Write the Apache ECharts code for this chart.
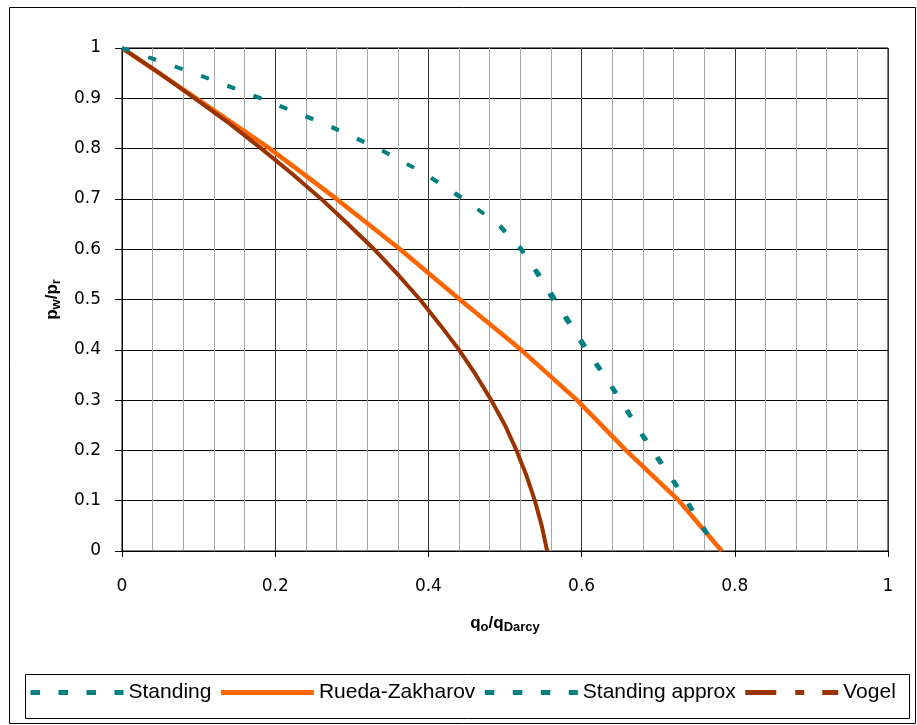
<!DOCTYPE html>
<html>
<head>
<meta charset="utf-8">
<script src="https://cdn.jsdelivr.net/npm/echarts@6/dist/echarts.min.js"></script>
<style>
  html, body { margin: 0; padding: 0; background: #fff; }
  #chart { width: 917px; height: 725px; }
</style>
</head>
<body>
<div id="chart"></div>
<script>
// values (q = qo/qDarcy, p = pw/pr)
const standingP = [1, 0.95, 0.9, 0.85, 0.8, 0.75, 0.7, 0.65, 0.6, 0.55, 0.5, 0.45, 0.4, 0.35, 0.3, 0.25, 0.2, 0.15, 0.1, 0.05, 0];
const standingQ = [0, 0.095, 0.182, 0.265, 0.336, 0.395, 0.444, 0.492, 0.522, 0.542, 0.562, 0.584, 0.605, 0.628, 0.650, 0.670, 0.691, 0.714, 0.736, 0.756, 0.778];

const approxP = [1, 0.95, 0.9, 0.85, 0.8, 0.75, 0.7, 0.65, 0.6, 0.55, 0.5, 0.45, 0.4, 0.35, 0.3, 0.25, 0.2, 0.15, 0.1, 0.05, 0];
const approxQ = [0, 0.093, 0.180, 0.262, 0.334, 0.396, 0.447, 0.490, 0.520, 0.545, 0.566, 0.587, 0.608, 0.630, 0.652, 0.672, 0.694, 0.716, 0.738, 0.758, 0.780];

const ruedaP = [1, 0.9, 0.8, 0.7, 0.6, 0.5, 0.4, 0.3, 0.2, 0.1, 0];
const ruedaQ = [0, 0.097, 0.193, 0.280, 0.363, 0.441, 0.521, 0.594, 0.658, 0.727, 0.783];

const vogelP = [1, 0.95, 0.9, 0.85, 0.8, 0.75, 0.7, 0.65, 0.6, 0.55, 0.5, 0.45, 0.4, 0.35, 0.3, 0.25, 0.2, 0.15, 0.1, 0.05, 0];
const vogelQ = [0, 0.049, 0.095, 0.140, 0.182, 0.222, 0.260, 0.295, 0.329, 0.360, 0.389, 0.415, 0.440, 0.462, 0.482, 0.500, 0.515, 0.528, 0.539, 0.548, 0.555];

const seriesNames = ['Standing', 'Rueda-Zakharov', 'Standing approx', 'Vogel'];

const pairs = (xs, ys) => xs.map((x, i) => [x, ys[i]]);

const TEAL = '#008080';
const ORANGE = '#FF6600';
const BROWN = '#993300';

const chart = echarts.init(document.getElementById('chart'));

const tickFont = { fontFamily: 'DejaVu Sans', fontSize: 17, color: '#000' };
// main text + lowered subscript
const subRich = {
  a: { fontFamily: 'Liberation Sans', fontSize: 17, fontWeight: 'bold', color: '#000', lineHeight: 19, verticalAlign: 'top' },
  b: { fontFamily: 'Liberation Sans', fontSize: 13, fontWeight: 'bold', color: '#000', lineHeight: 13, verticalAlign: 'bottom', padding: [9, 0, 0, 0] }
};

const option = {
  animation: false,
  backgroundColor: '#fff',
  grid: { left: 122, right: 29, top: 48, bottom: 174, show: true, borderColor: '#000', borderWidth: 1 },
  xAxis: {
    type: 'value', min: 0, max: 1, interval: 0.2,
    name: '{a|q}{b|o}{a|/q}{b|Darcy}',
    nameLocation: 'middle', nameGap: 64,
    nameTextStyle: { rich: subRich },
    axisLine: { show: true, lineStyle: { color: '#000', width: 1 } },
    axisTick: { show: true, length: 6, lineStyle: { color: '#000' } },
    axisLabel: Object.assign({ margin: 27 }, tickFont),
    splitLine: { show: true, lineStyle: { color: '#333', width: 1 } },
    minorTick: { show: false, splitNumber: 5 },
    minorSplitLine: { show: true, lineStyle: { color: '#A6A6A6', width: 1 } }
  },
  yAxis: {
    type: 'value', min: 0, max: 1, interval: 0.1,
    name: '{a|p}{b|w}{a|/p}{b|r}',
    nameLocation: 'middle', nameGap: 58,
    nameTextStyle: { rich: subRich },
    axisLine: { show: true, lineStyle: { color: '#000', width: 1 } },
    axisTick: { show: true, length: 7, lineStyle: { color: '#000' } },
    axisLabel: Object.assign({ margin: 21 }, tickFont),
    splitLine: { show: true, lineStyle: { color: '#000', width: 1 } }
  },
  legend: {
    left: 23, top: 677,
    itemWidth: 93, itemHeight: 14, itemGap: 7,
    textStyle: { fontFamily: 'Liberation Sans', fontSize: 21, color: '#000' },
    itemStyle: { opacity: 0 },
    lineStyle: { width: 5 },
    data: [
      { name: 'Standing', lineStyle: { type: [9.5, 18.5] } },
      { name: 'Rueda-Zakharov', lineStyle: { type: 'solid' } },
      { name: 'Standing approx', lineStyle: { type: [9.5, 18.5] } },
      { name: 'Vogel', lineStyle: { type: [31, 19, 9, 18] } }
    ]
  },
  graphic: [
    { type: 'rect', left: 7, top: 5, shape: { width: 906, height: 716 }, style: { fill: 'none', stroke: '#000', lineWidth: 1 }, silent: true },
    { type: 'rect', left: 23, top: 672, shape: { width: 884, height: 44 }, style: { fill: 'none', stroke: '#000', lineWidth: 1 }, silent: true, z: -1 }
  ],
  series: [
    {
      name: seriesNames[0], type: 'line', data: pairs(standingQ, standingP),
      showSymbol: false, symbol: 'none', color: TEAL, z: 3,
      lineStyle: { color: TEAL, width: 3.5, type: [8, 20] }
    },
    {
      name: seriesNames[1], type: 'line', data: pairs(ruedaQ, ruedaP),
      showSymbol: false, symbol: 'none', color: ORANGE, z: 2,
      lineStyle: { color: ORANGE, width: 4.5, type: 'solid' }
    },
    {
      name: seriesNames[2], type: 'line', data: pairs(approxQ, approxP),
      showSymbol: false, symbol: 'none', color: TEAL, z: 3,
      lineStyle: { color: TEAL, width: 3.5, type: [8, 20] }
    },
    {
      name: seriesNames[3], type: 'line', data: pairs(vogelQ, vogelP),
      showSymbol: false, symbol: 'none', color: BROWN, z: 2,
      lineStyle: { color: BROWN, width: 4, type: 'solid' }
    }
  ]
};

chart.setOption(option);
</script>
</body>
</html>
